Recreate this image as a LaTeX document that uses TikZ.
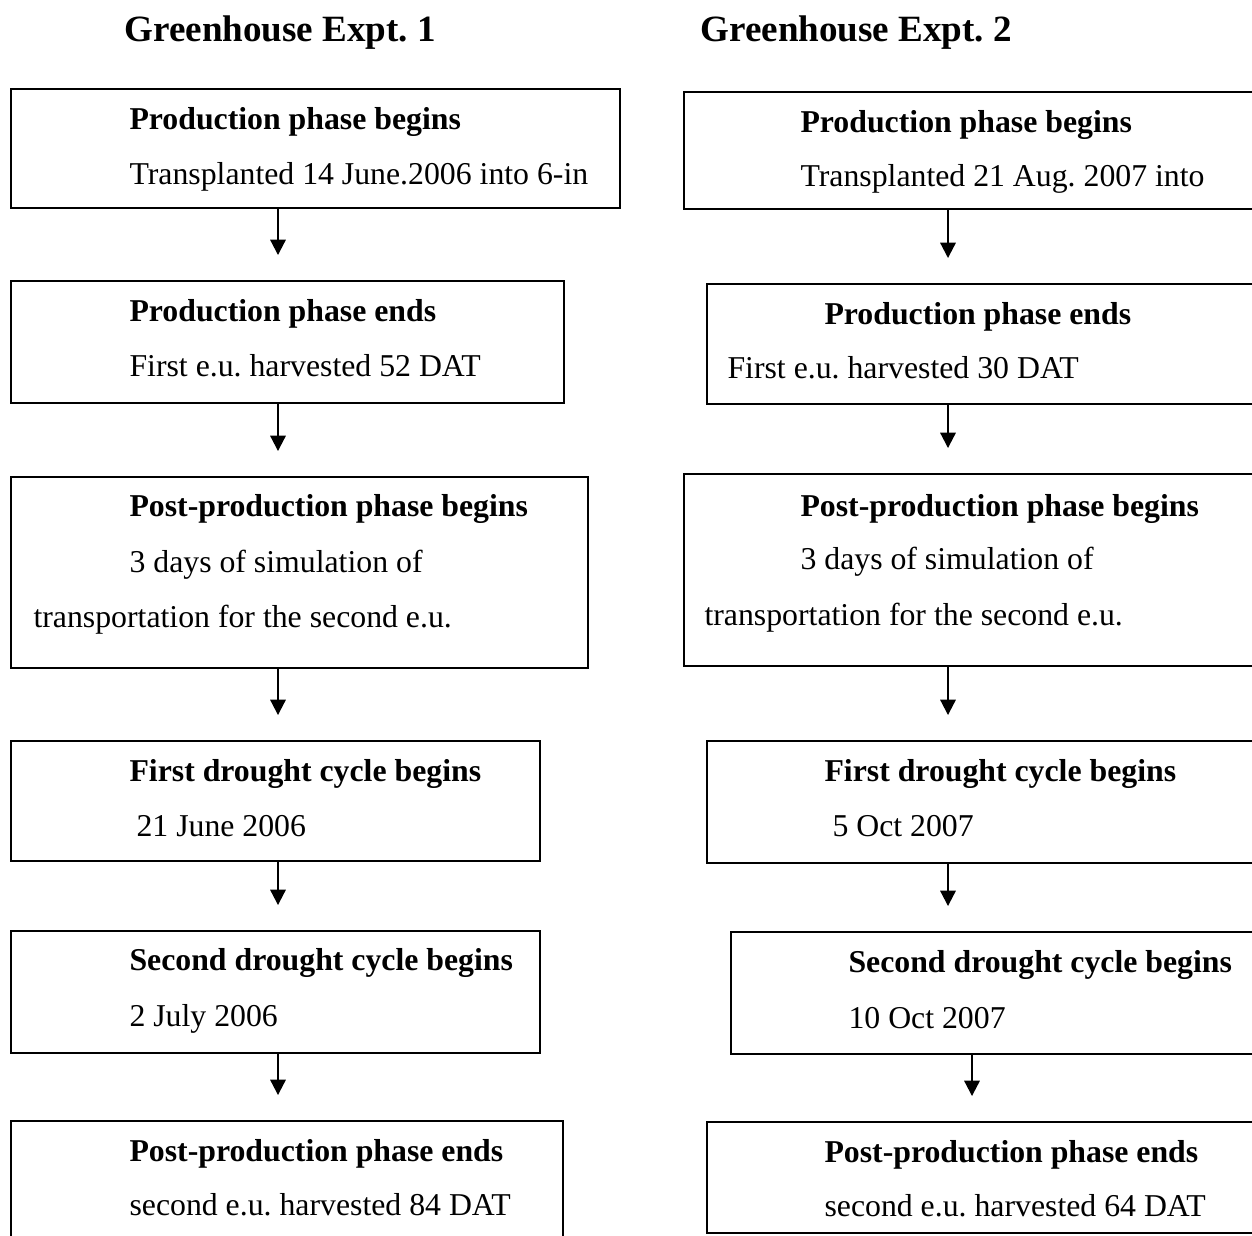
\documentclass[tikz,border=0pt]{standalone}
\usepackage{fontspec}
\setmainfont{Liberation Serif}
\usepackage{tikz}
\usetikzlibrary{arrows.meta, fit}
\frenchspacing

\begin{document}
\begin{tikzpicture}[x=0.3776pt, y=-0.3776pt, >=Stealth,
  box/.style={draw, line width=0.8pt, inner sep=0pt},
  hdr/.style={anchor=base west, inner sep=0pt, font=\fontsize{14}{17}\selectfont\bfseries},
  ttl/.style={anchor=base west, inner sep=0pt, font=\fontsize{12}{14}\selectfont\bfseries},
  txt/.style={anchor=base west, inner sep=0pt, font=\fontsize{12}{14}\selectfont},
  flow/.style={-{Triangle[width=5.8pt, length=5.8pt]}, line width=0.8pt, shorten >=9.4pt}]
  \useasboundingbox (0,0) rectangle (1252,1236);
  \clip (0,0) rectangle (1252,1236);
  \coordinate (axL) at (278,0);
  \coordinate (axR) at (948,0);
  \coordinate (axRb) at (972,0);

  % --- Greenhouse Expt. 1 ---
  \node[hdr] (hL) at (124,42) {Greenhouse Expt. 1};
  \node[box, fit={(11,89) (620,208)}] (l1) {};
  \node[ttl] (l1t) at (129,130) {Production phase begins};
  \node[txt] (l1a) at (129,185) {Transplanted 14 June.2006 into 6-in};
  \node[box, fit={(11,281) (564,403)}] (l2) {};
  \node[ttl] (l2t) at (129,322) {Production phase ends};
  \node[txt] (l2a) at (129,377) {First e.u. harvested 52 DAT};
  \node[box, fit={(11,477) (588,668)}] (l3) {};
  \node[ttl] (l3t) at (129,517) {Post-production phase begins};
  \node[txt] (l3a) at (129,572) {3 days of simulation of};
  \node[txt] (l3b) at (33,627) {transportation for the second e.u.};
  \node[box, fit={(11,741) (540,861)}] (l4) {};
  \node[ttl] (l4t) at (129,781) {First drought cycle begins};
  \node[txt] (l4a) at (136,836) {21 June 2006};
  \node[box, fit={(11,931) (540,1053)}] (l5) {};
  \node[ttl] (l5t) at (129,970) {Second drought cycle begins};
  \node[txt] (l5a) at (129,1026) {2 July 2006};
  \node[box, fit={(11,1121) (563,1260)}] (l6) {};
  \node[ttl] (l6t) at (129,1161) {Post-production phase ends};
  \node[txt] (l6a) at (129,1215) {second e.u. harvested 84 DAT};

  \draw[flow] (l1.south -| axL) -- (l2.north -| axL);
  \draw[flow] (l2.south -| axL) -- (l3.north -| axL);
  \draw[flow] (l3.south -| axL) -- (l4.north -| axL);
  \draw[flow] (l4.south -| axL) -- (l5.north -| axL);
  \draw[flow] (l5.south -| axL) -- (l6.north -| axL);

  % --- Greenhouse Expt. 2 ---
  \node[hdr] (hR) at (700,42) {Greenhouse Expt. 2};
  \node[box, fit={(684,92) (1270,209)}] (r1) {};
  \node[ttl] (r1t) at (800,133) {Production phase begins};
  \node[txt] (r1a) at (800,187) {Transplanted 21 Aug. 2007 into};
  \node[box, fit={(707,284) (1270,404)}] (r2) {};
  \node[ttl] (r2t) at (824,325) {Production phase ends};
  \node[txt] (r2a) at (727,379) {First e.u. harvested 30 DAT};
  \node[box, fit={(684,474) (1270,666)}] (r3) {};
  \node[ttl] (r3t) at (800,516) {Post-production phase begins};
  \node[txt] (r3a) at (800,569) {3 days of simulation of};
  \node[txt] (r3b) at (704,625) {transportation for the second e.u.};
  \node[box, fit={(707,741) (1270,863)}] (r4) {};
  \node[ttl] (r4t) at (824,781) {First drought cycle begins};
  \node[txt] (r4a) at (832,836) {5 Oct 2007};
  \node[box, fit={(731,932) (1270,1054)}] (r5) {};
  \node[ttl] (r5t) at (848,972) {Second drought cycle begins};
  \node[txt] (r5a) at (848,1028) {10 Oct 2007};
  \node[box, fit={(707,1122) (1270,1233)}] (r6) {};
  \node[ttl] (r6t) at (824,1162) {Post-production phase ends};
  \node[txt] (r6a) at (824,1216) {second e.u. harvested 64 DAT};

  \draw[flow] (r1.south -| axR) -- (r2.north -| axR);
  \draw[flow] (r2.south -| axR) -- (r3.north -| axR);
  \draw[flow] (r3.south -| axR) -- (r4.north -| axR);
  \draw[flow] (r4.south -| axR) -- (r5.north -| axR);
  \draw[flow] (r5.south -| axRb) -- (r6.north -| axRb);
\end{tikzpicture}
\end{document}
